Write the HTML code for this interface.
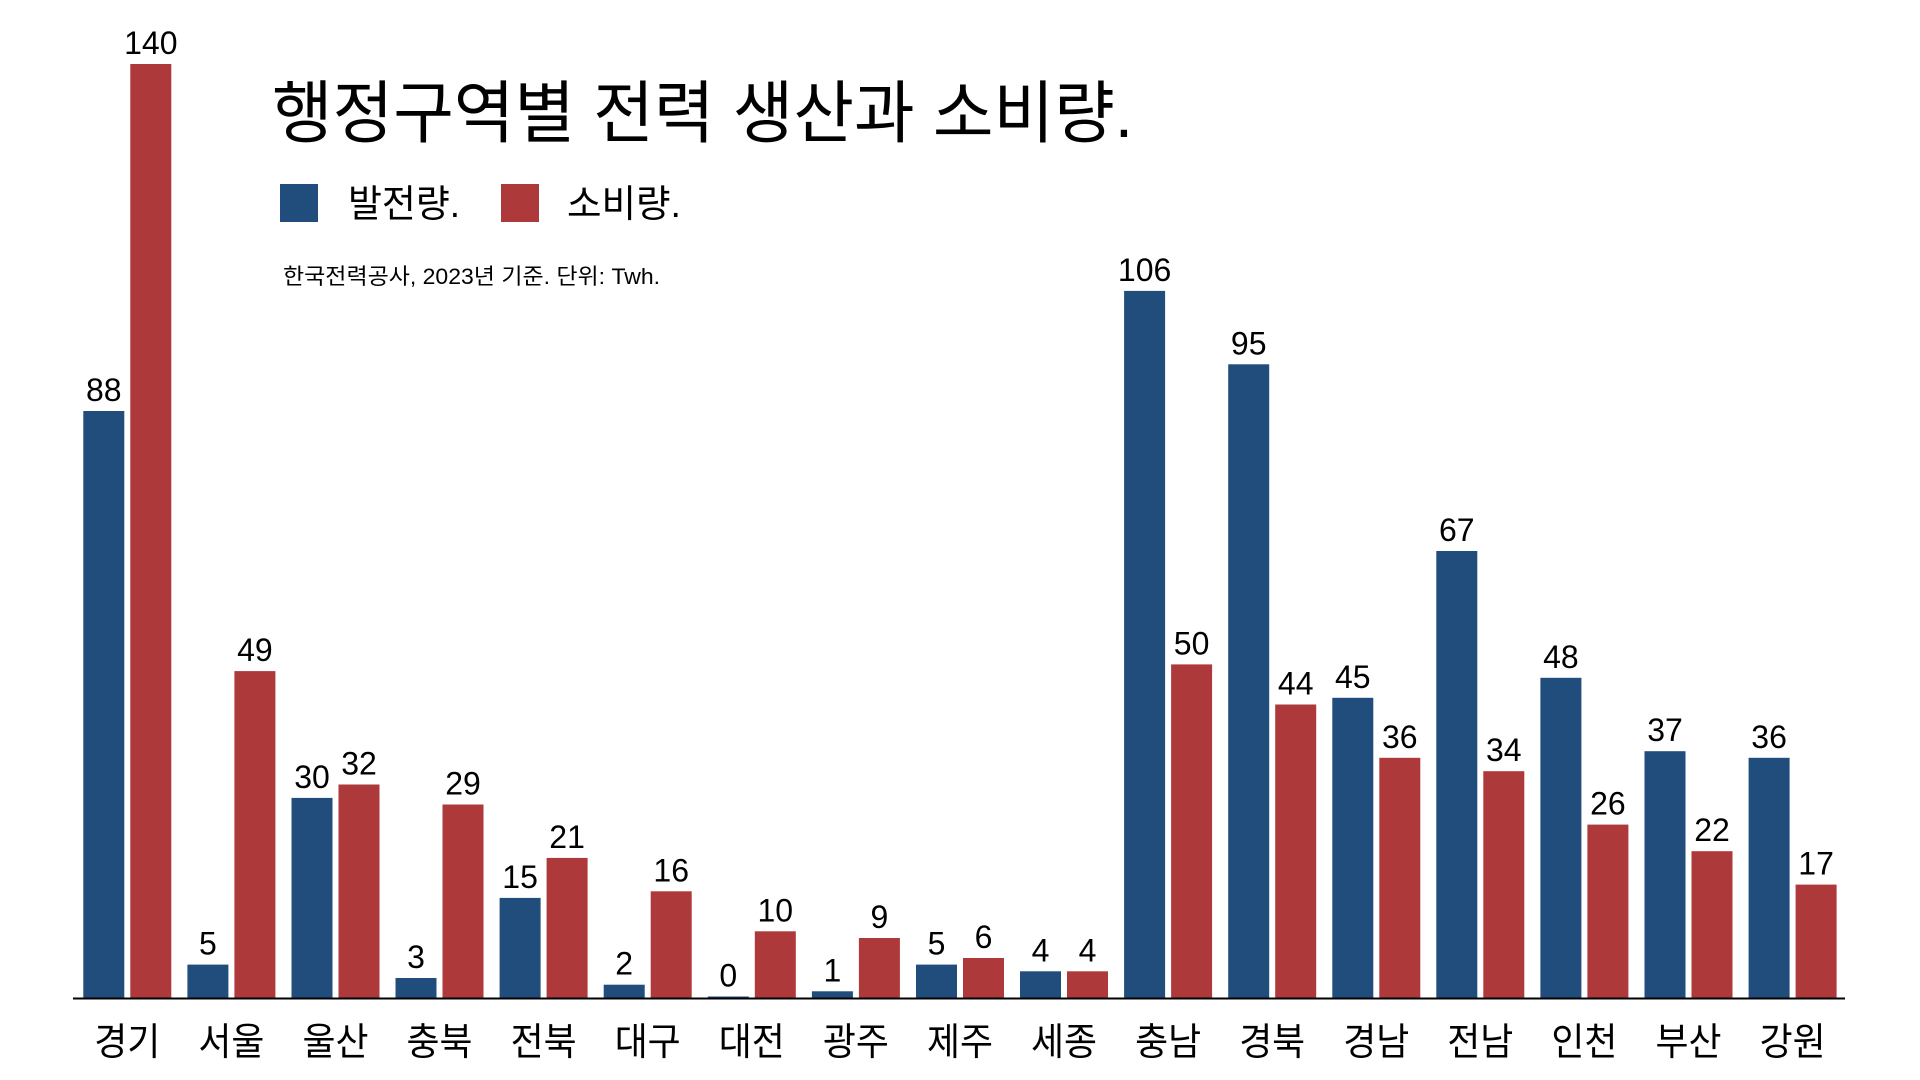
<!DOCTYPE html>
<html><head><meta charset="utf-8"><style>
html,body{margin:0;padding:0;background:#fff;}
svg{display:block;}
.v{font-family:"Liberation Sans",sans-serif;font-size:32px;text-anchor:middle;fill:#000;}
.c{font-family:"Liberation Sans","Noto Sans CJK KR",sans-serif;font-size:38px;text-anchor:middle;fill:#000;}
.k{font-family:"Liberation Sans","Noto Sans CJK KR",sans-serif;fill:#000;}
</style></head><body>
<svg width="1920" height="1080" viewBox="0 0 1920 1080" xmlns="http://www.w3.org/2000/svg">
<text class="k" x="272" y="137" font-size="68" textLength="861" lengthAdjust="spacingAndGlyphs">행정구역별 전력 생산과 소비량.</text>
<rect x="280" y="184" width="38" height="38" fill="#204d7c"/>
<text class="k" x="348" y="217" font-size="38" textLength="112" lengthAdjust="spacingAndGlyphs">발전량.</text>
<rect x="501" y="184" width="38" height="38" fill="#ae393a"/>
<text class="k" x="567" y="217" font-size="38" textLength="114" lengthAdjust="spacingAndGlyphs">소비량.</text>
<text class="k" x="283" y="284" font-size="22" textLength="377" lengthAdjust="spacingAndGlyphs">한국전력공사, 2023년 기준. 단위: Twh.</text>
<g fill="#204d7c">
<rect x="83.3" y="411" width="41" height="587"/>
<rect x="187.4" y="964.6" width="41" height="33.4"/>
<rect x="291.5" y="797.9" width="41" height="200.1"/>
<rect x="395.5" y="978" width="41" height="20"/>
<rect x="499.6" y="897.9" width="41" height="100.1"/>
<rect x="603.7" y="984.7" width="41" height="13.3"/>
<rect x="707.8" y="996.5" width="41" height="1.5"/>
<rect x="811.9" y="991.3" width="41" height="6.7"/>
<rect x="916" y="964.6" width="41" height="33.4"/>
<rect x="1020" y="971.3" width="41" height="26.7"/>
<rect x="1124.1" y="290.9" width="41" height="707.1"/>
<rect x="1228.2" y="364.3" width="41" height="633.7"/>
<rect x="1332.3" y="697.8" width="41" height="300.2"/>
<rect x="1436.3" y="551" width="41" height="447"/>
<rect x="1540.4" y="677.8" width="41" height="320.2"/>
<rect x="1644.5" y="751.2" width="41" height="246.8"/>
<rect x="1748.6" y="757.8" width="41" height="240.2"/>
</g>
<g fill="#ae393a">
<rect x="130.3" y="64" width="41" height="934"/>
<rect x="234.4" y="671.1" width="41" height="326.9"/>
<rect x="338.5" y="784.5" width="41" height="213.5"/>
<rect x="442.5" y="804.5" width="41" height="193.5"/>
<rect x="546.6" y="857.9" width="41" height="140.1"/>
<rect x="650.7" y="891.3" width="41" height="106.7"/>
<rect x="754.8" y="931.3" width="41" height="66.7"/>
<rect x="858.9" y="938" width="41" height="60"/>
<rect x="963" y="958" width="41" height="40"/>
<rect x="1067" y="971.3" width="41" height="26.7"/>
<rect x="1171.1" y="664.4" width="41" height="333.6"/>
<rect x="1275.2" y="704.5" width="41" height="293.5"/>
<rect x="1379.3" y="757.8" width="41" height="240.2"/>
<rect x="1483.3" y="771.2" width="41" height="226.8"/>
<rect x="1587.4" y="824.6" width="41" height="173.4"/>
<rect x="1691.5" y="851.2" width="41" height="146.8"/>
<rect x="1795.6" y="884.6" width="41" height="113.4"/>
</g>
<line x1="73" y1="998.5" x2="1845" y2="998.5" stroke="#000" stroke-width="2"/>
<g class="v">
<text x="103.8" y="401">88</text>
<text x="207.9" y="954.6">5</text>
<text x="312" y="787.9">30</text>
<text x="416" y="968">3</text>
<text x="520.1" y="887.9">15</text>
<text x="624.2" y="974.7">2</text>
<text x="728.3" y="986.5">0</text>
<text x="832.4" y="981.3">1</text>
<text x="936.5" y="954.6">5</text>
<text x="1040.5" y="961.3">4</text>
<text x="1144.6" y="280.9">106</text>
<text x="1248.7" y="354.3">95</text>
<text x="1352.8" y="687.8">45</text>
<text x="1456.8" y="541">67</text>
<text x="1560.9" y="667.8">48</text>
<text x="1665" y="741.2">37</text>
<text x="1769.1" y="747.8">36</text>
<text x="150.8" y="54">140</text>
<text x="254.9" y="661.1">49</text>
<text x="359" y="774.5">32</text>
<text x="463" y="794.5">29</text>
<text x="567.1" y="847.9">21</text>
<text x="671.2" y="881.3">16</text>
<text x="775.3" y="921.3">10</text>
<text x="879.4" y="928">9</text>
<text x="983.5" y="948">6</text>
<text x="1087.5" y="961.3">4</text>
<text x="1191.6" y="654.4">50</text>
<text x="1295.7" y="694.5">44</text>
<text x="1399.8" y="747.8">36</text>
<text x="1503.8" y="761.2">34</text>
<text x="1607.9" y="814.6">26</text>
<text x="1712" y="841.2">22</text>
<text x="1816.1" y="874.6">17</text>
</g>
<g class="c">
<text x="127.3" y="1055" textLength="66" lengthAdjust="spacingAndGlyphs" transform="translate(-33,0)" text-anchor="start">경기</text>
<text x="231.4" y="1055" textLength="66" lengthAdjust="spacingAndGlyphs" transform="translate(-33,0)" text-anchor="start">서울</text>
<text x="335.5" y="1055" textLength="66" lengthAdjust="spacingAndGlyphs" transform="translate(-33,0)" text-anchor="start">울산</text>
<text x="439.5" y="1055" textLength="66" lengthAdjust="spacingAndGlyphs" transform="translate(-33,0)" text-anchor="start">충북</text>
<text x="543.6" y="1055" textLength="66" lengthAdjust="spacingAndGlyphs" transform="translate(-33,0)" text-anchor="start">전북</text>
<text x="647.7" y="1055" textLength="66" lengthAdjust="spacingAndGlyphs" transform="translate(-33,0)" text-anchor="start">대구</text>
<text x="751.8" y="1055" textLength="66" lengthAdjust="spacingAndGlyphs" transform="translate(-33,0)" text-anchor="start">대전</text>
<text x="855.9" y="1055" textLength="66" lengthAdjust="spacingAndGlyphs" transform="translate(-33,0)" text-anchor="start">광주</text>
<text x="960" y="1055" textLength="66" lengthAdjust="spacingAndGlyphs" transform="translate(-33,0)" text-anchor="start">제주</text>
<text x="1064" y="1055" textLength="66" lengthAdjust="spacingAndGlyphs" transform="translate(-33,0)" text-anchor="start">세종</text>
<text x="1168.1" y="1055" textLength="66" lengthAdjust="spacingAndGlyphs" transform="translate(-33,0)" text-anchor="start">충남</text>
<text x="1272.2" y="1055" textLength="66" lengthAdjust="spacingAndGlyphs" transform="translate(-33,0)" text-anchor="start">경북</text>
<text x="1376.3" y="1055" textLength="66" lengthAdjust="spacingAndGlyphs" transform="translate(-33,0)" text-anchor="start">경남</text>
<text x="1480.3" y="1055" textLength="66" lengthAdjust="spacingAndGlyphs" transform="translate(-33,0)" text-anchor="start">전남</text>
<text x="1584.4" y="1055" textLength="66" lengthAdjust="spacingAndGlyphs" transform="translate(-33,0)" text-anchor="start">인천</text>
<text x="1688.5" y="1055" textLength="66" lengthAdjust="spacingAndGlyphs" transform="translate(-33,0)" text-anchor="start">부산</text>
<text x="1792.6" y="1055" textLength="66" lengthAdjust="spacingAndGlyphs" transform="translate(-33,0)" text-anchor="start">강원</text>
</g>
</svg>
</body></html>
